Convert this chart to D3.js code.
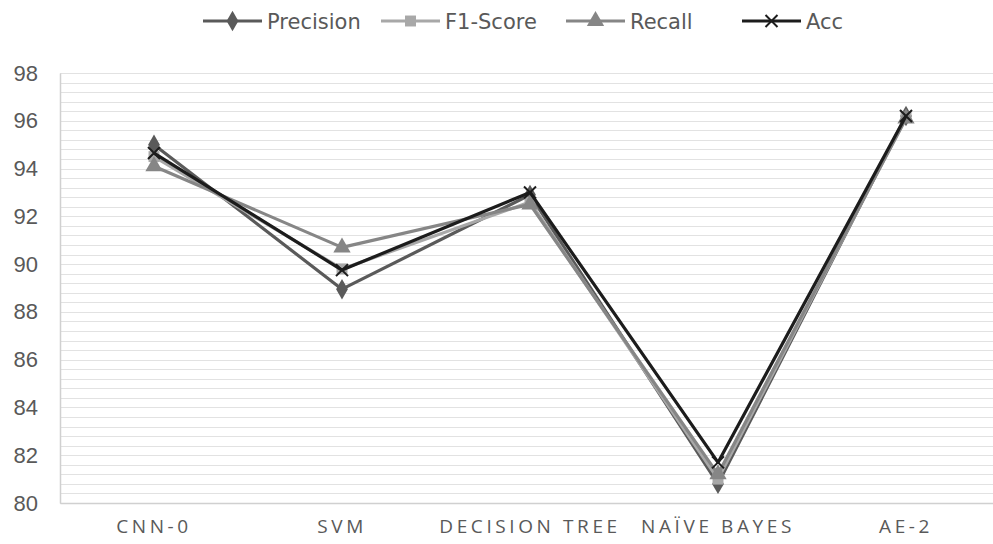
<!DOCTYPE html>
<html>
<head>
<meta charset="utf-8">
<script src="https://cdn.jsdelivr.net/npm/d3@7"></script>
<style>
  body { margin: 0; background: #fff; }
  svg { font-family: "DejaVu Sans", "Open Sans", sans-serif; }
</style>
</head>
<body>
<div id="chart"></div>
<script>
// chart data
var models = ["CNN-0", "SVM", "DECISION TREE", "NAÏVE BAYES", "AE-2"];
var precision = [95.0, 88.95, 92.9, 80.8, 96.2];
var f1Score = [94.5, 89.8, 92.6, 81.0, 96.15];
var recall = [94.1, 90.7, 92.5, 81.2, 96.1];
var acc = [94.65, 89.75, 93.0, 81.7, 96.2];
var yTicks = [80, 82, 84, 86, 88, 90, 92, 94, 96, 98];

// series built from the arrays above
var series = [
  {name: "Precision", values: precision, color: "#5a5a5a", symbol: "diamond"},
  {name: "F1-Score", values: f1Score, color: "#a8a8a8", symbol: "square"},
  {name: "Recall", values: recall, color: "#868686", symbol: "triangle"},
  {name: "Acc", values: acc, color: "#1c1c1c", symbol: "cross"}
];

var W = 993, H = 544;
var margin = {top: 73, right: -7, bottom: 41, left: 60};

var svg = d3.select("#chart").append("svg")
    .attr("width", W)
    .attr("height", H);

var x = d3.scaleBand()
    .domain(models)
    .range([margin.left, W - margin.right]);

var y = d3.scaleLinear()
    .domain([80, 98])
    .range([H - margin.bottom, margin.top]);

// faint minor gridlines
var grid = d3.range(80, 98.01, 0.4);
svg.append("g")
    .selectAll("line")
    .data(grid)
  .enter().append("line")
    .attr("x1", margin.left)
    .attr("x2", W)
    .attr("y1", function(d) { return Math.round(y(d)) + 0.5; })
    .attr("y2", function(d) { return Math.round(y(d)) + 0.5; })
    .attr("stroke", "#e2e2e2")
    .attr("stroke-width", 1);

// left axis
var yAxis = d3.axisLeft(y).tickValues(yTicks).tickSize(0).tickPadding(22);
var gy = svg.append("g")
    .attr("transform", "translate(" + margin.left + ",0)")
    .call(yAxis);
gy.select(".domain").attr("stroke", "#d0d0d0").attr("stroke-width", 1.5);
gy.selectAll("text")
    .style("font-size", "22px")
    .attr("fill", "#595959");

// bottom axis
var xAxis = d3.axisBottom(x).tickSize(0).tickPadding(17);
var gx = svg.append("g")
    .attr("transform", "translate(0," + (H - margin.bottom) + ")")
    .call(xAxis);
gx.select(".domain").attr("stroke", "#d0d0d0").attr("stroke-width", 1.5);
gx.selectAll("text")
    .style("font-size", "19px")
    .style("letter-spacing", "3.6px")
    .style("font-family", "'Open Sans', sans-serif")
    .attr("fill", "#595959");

var line = d3.line()
    .x(function(d, i) { return x(models[i]) + x.bandwidth() / 2; })
    .y(function(d) { return y(d); });

function drawSymbol(g, type, color, cx, cy) {
  if (type == "cross") {
    g.append("path")
      .attr("d", "M" + (cx - 6) + "," + (cy - 6) + "L" + (cx + 6) + "," + (cy + 6) +
                 "M" + (cx + 6) + "," + (cy - 6) + "L" + (cx - 6) + "," + (cy + 6))
      .attr("stroke", color)
      .attr("stroke-width", 2)
      .attr("fill", "none");
    return;
  }
  var sym = {diamond: d3.symbolDiamond, square: d3.symbolSquare, triangle: d3.symbolTriangle}[type];
  var size = {diamond: 120, square: 120, triangle: 130}[type];
  g.append("path")
    .attr("d", d3.symbol().type(sym).size(size)())
    .attr("transform", "translate(" + cx + "," + cy + ")")
    .attr("fill", color);
}

// lines with markers
series.forEach(function(s) {
  var g = svg.append("g");
  g.append("path")
    .datum(s.values)
    .attr("d", line)
    .attr("fill", "none")
    .attr("stroke", s.color)
    .attr("stroke-width", 3.2)
    .attr("stroke-linejoin", "round");
  s.values.forEach(function(v, i) {
    drawSymbol(g, s.symbol, s.color, x(models[i]) + x.bandwidth() / 2, y(v));
  });
});

// legend
var legendX = [203, 381, 566, 742];
var legend = svg.append("g");
series.forEach(function(s, i) {
  var lg = legend.append("g");
  var lx = legendX[i];
  lg.append("line")
    .attr("x1", lx).attr("x2", lx + 59)
    .attr("y1", 21).attr("y2", 21)
    .attr("stroke", s.color)
    .attr("stroke-width", 3.2);
  drawSymbol(lg, s.symbol, s.color, lx + 29.5, 21);
  lg.append("text")
    .attr("x", lx + 64)
    .attr("y", 28.5)
    .text(s.name)
    .style("font-size", "21px")
    .attr("fill", "#595959");
});
</script>
</body>
</html>
